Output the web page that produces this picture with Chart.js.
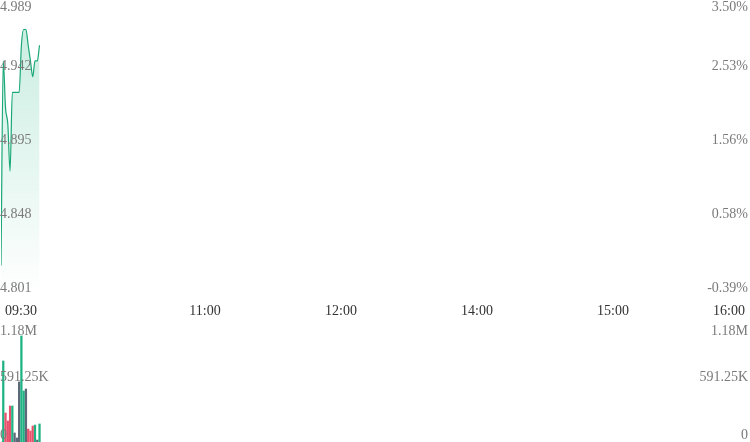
<!DOCTYPE html>
<html><head><meta charset="utf-8">
<script src="https://cdn.jsdelivr.net/npm/chart.js@4.4.1/dist/chart.umd.min.js"></script>
<style>
html,body{margin:0;padding:0;background:#fff;overflow:hidden;}
#p{position:absolute;left:0;top:0;width:750px;height:322px;}
#v{position:absolute;left:0;top:322px;width:750px;height:120px;}
</style></head><body>
<div id="p"><canvas id="pc"></canvas></div>
<div id="v"><canvas id="vc"></canvas></div>
<script>
// ---- data ----
const minutes = [0, 1, 2, 3, 4, 5, 6, 7, 8, 9, 10, 11, 12, 13, 14, 15, 16, 17];
const prices = [4.82, 4.95, 4.92, 4.91, 4.88, 4.93, 4.93, 4.93, 4.93, 4.96, 4.97, 4.97, 4.96, 4.95, 4.94, 4.95, 4.95, 4.96];
const volumes = [0, 826000, 296000, 214000, 367000, 367000, 92000, 41000, 612000, 1081000, 520000, 540000, 132000, 112000, 163000, 173000, 20000, 184000];
const prevClose = 4.82;
const timeTickMinutes = [0, 90, 150, 210, 270, 330];
const timeTickLabels = ['09:30', '11:00', '12:00', '14:00', '15:00', '16:00'];
const priceTickValues = [4.98875, 4.941875, 4.895, 4.848125, 4.80125];
const priceTickLabels = ['4.989', '4.942', '4.895', '4.848', '4.801'];
const pctTickLabels = ['3.50%', '2.53%', '1.56%', '0.58%', '-0.39%'];
const volTickValues = [1182500, 591250, 0];
const volTickLabels = ['1.18M', '591.25K', '0'];

const UP = '#1db383', DOWN = '#e8506b', FLAT = '#5d6878';
const LINE = '#1aa876';
const FONT = '14px "Liberation Serif", "Times New Roman", serif';

const volColors = prices.map((p, i) => {
  const prev = i === 0 ? prevClose : prices[i - 1];
  return p > prev ? UP : (p < prev ? DOWN : FLAT);
});

function drawYLabels(chart, scaleId, values, leftLabels, rightLabels, topInset) {
  const ctx = chart.ctx, s = chart.scales[scaleId], a = chart.chartArea;
  ctx.save();
  ctx.font = FONT; ctx.fillStyle = '#7a7a7a'; ctx.textBaseline = 'alphabetic';
  values.forEach((v, i) => {
    let y = s.getPixelForValue(v) - 3.5;
    const minY = a.top + topInset;
    if (y < minY) y = minY;
    ctx.textAlign = 'left'; ctx.fillText(leftLabels[i], 0, y);
    ctx.textAlign = 'right'; ctx.fillText(rightLabels[i], 748, y);
  });
  ctx.restore();
}

const priceLabels = {
  id: 'priceLabels',
  afterDraw(chart) {
    drawYLabels(chart, 'y', priceTickValues, priceTickLabels, pctTickLabels, 10.6);
    const ctx = chart.ctx, xs = chart.scales.x;
    ctx.save();
    ctx.font = FONT; ctx.fillStyle = '#333'; ctx.textBaseline = 'alphabetic';
    timeTickMinutes.forEach((m, i) => {
      let x = xs.getPixelForValue(m);
      if (i === 0) { ctx.textAlign = 'left'; x += 4; }
      else if (i === timeTickMinutes.length - 1) { ctx.textAlign = 'right'; x -= 4; }
      else ctx.textAlign = 'center';
      ctx.fillText(timeTickLabels[i], x, 315);
    });
    ctx.restore();
  }
};
const volLabels = {
  id: 'volLabels',
  afterDraw(chart) { drawYLabels(chart, 'y', volTickValues, volTickLabels, volTickLabels, 8.6); }
};

new Chart(document.getElementById('pc'), {
  type: 'line',
  data: {
    datasets: [{
      data: minutes.map((m, i) => ({ x: m, y: prices[i] })),
      borderColor: LINE,
      borderWidth: 1.2,
      pointRadius: 0,
      cubicInterpolationMode: 'monotone',
      fill: 'start',
      backgroundColor: (c) => {
        const ch = c.chart, a = ch.chartArea;
        if (!a) return 'rgba(29,179,131,0.15)';
        const g = ch.ctx.createLinearGradient(0, a.top, 0, a.bottom);
        g.addColorStop(0, 'rgba(29,179,131,0.26)');
        g.addColorStop(1, 'rgba(29,179,131,0)');
        return g;
      }
    }]
  },
  options: {
    responsive: true, maintainAspectRatio: false, animation: false, events: [],
    layout: { padding: { left: 1, right: 1, top: 0, bottom: 27 } },
    plugins: { legend: { display: false }, tooltip: { enabled: false } },
    scales: {
      x: { type: 'linear', min: 0, max: 330, display: false },
      y: { min: priceTickValues[4], max: priceTickValues[0], display: false }
    }
  },
  plugins: [priceLabels]
});

new Chart(document.getElementById('vc'), {
  type: 'bar',
  data: {
    datasets: [{
      data: minutes.map((m, i) => ({ x: m, y: volumes[i] })),
      backgroundColor: volColors,
      barThickness: 1.6
    }]
  },
  options: {
    responsive: true, maintainAspectRatio: false, animation: false, events: [],
    layout: { padding: { left: 1, right: 1, top: 4, bottom: 0 } },
    plugins: { legend: { display: false }, tooltip: { enabled: false } },
    scales: {
      x: { type: 'linear', min: 0, max: 330, display: false, offset: false, grid: { offset: false } },
      y: { min: 0, max: volTickValues[0], display: false }
    }
  },
  plugins: [volLabels]
});
</script>
</body></html>
